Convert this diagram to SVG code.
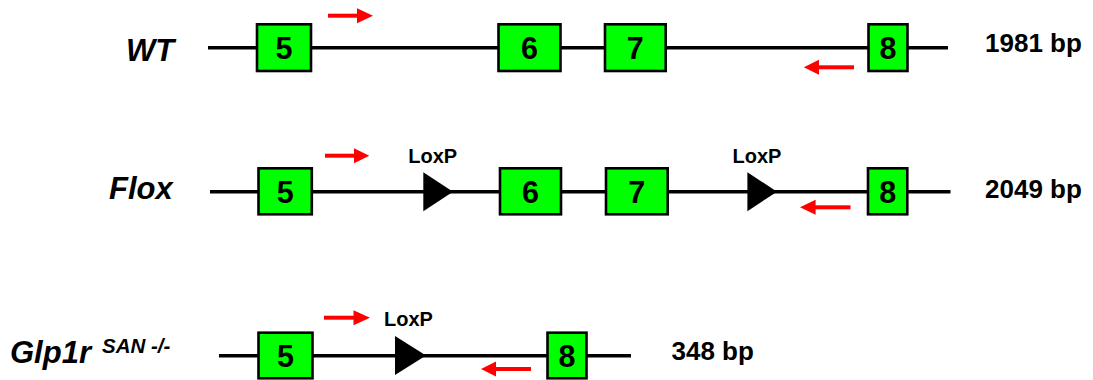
<svg xmlns="http://www.w3.org/2000/svg" width="1093" height="380" viewBox="0 0 1093 380">
<defs>
<style>
.bb{stroke:#000;stroke-width:3.6;fill:none}
.ex{fill:#00FF00;stroke:#000;stroke-width:2.6}
.num{font-family:"Liberation Sans",Arial,sans-serif;font-weight:bold;font-size:30.5px;text-anchor:middle;fill:#000}
.lbl{font-family:"Liberation Sans",Arial,sans-serif;font-weight:bold;font-style:italic;font-size:31px;fill:#000}
.sup{font-family:"Liberation Sans",Arial,sans-serif;font-weight:bold;font-style:italic;font-size:20.5px;fill:#000}
.bp{font-family:"Liberation Sans",Arial,sans-serif;font-weight:bold;font-size:26px;fill:#000}
.lox{font-family:"Liberation Sans",Arial,sans-serif;font-weight:bold;font-size:20px;fill:#000}
.pr{fill:#FF0000}
.tri{fill:#000}
</style>
</defs>
<rect width="1093" height="380" fill="#fff"/>
<g id="connectors">
<line class="bb" x1="208" y1="47.7" x2="948" y2="47.7"/>
<line class="bb" x1="210" y1="191.7" x2="950.5" y2="191.7"/>
<line class="bb" x1="219" y1="355.7" x2="631" y2="355.7"/>
</g>
<g id="row-wt">
<text id="label-wt" class="lbl" x="126" y="61">WT</text>
<g id="wt-ex5"><rect class="ex" x="257" y="24.3" width="54" height="46.7"/><text class="num" x="284" y="58.8">5</text></g>
<g id="wt-ex6"><rect class="ex" x="498.5" y="24.3" width="62" height="46.7"/><text class="num" x="529.5" y="58.8">6</text></g>
<g id="wt-ex7"><rect class="ex" x="605" y="24.3" width="60.7" height="46.7"/><text class="num" x="635.3" y="58.8">7</text></g>
<g id="wt-ex8"><rect class="ex" x="868.5" y="24.3" width="39" height="46.7"/><text class="num" x="888" y="58.8">8</text></g>
<g id="wt-fwd"><rect class="pr" x="328" y="13.7" width="30" height="4"/><polygon class="pr" points="357,8.2 373,15.7 357,23.2"/></g>
<g id="wt-rev"><rect class="pr" x="818" y="65.3" width="36" height="4"/><polygon class="pr" points="819,59.8 803.8,67.3 819,74.8"/></g>
<text id="wt-size" class="bp" x="985" y="51.7">1981 bp</text>
</g>
<g id="row-flox">
<text id="label-flox" class="lbl" x="109" y="199">Flox</text>
<g id="flox-ex5"><rect class="ex" x="258.5" y="168.3" width="53.3" height="46"/><text class="num" x="285.2" y="202.5">5</text></g>
<g id="flox-ex6"><rect class="ex" x="500" y="168.3" width="61" height="46"/><text class="num" x="530.5" y="202.5">6</text></g>
<g id="flox-ex7"><rect class="ex" x="606" y="168.3" width="61.7" height="46"/><text class="num" x="636.8" y="202.5">7</text></g>
<g id="flox-ex8"><rect class="ex" x="868" y="168.3" width="39.3" height="46"/><text class="num" x="887.7" y="202.5">8</text></g>
<g id="flox-lox1"><polygon class="tri" points="423.3,172.2 453,191.7 423.3,211.2"/><text class="lox" x="408.3" y="163.3">LoxP</text></g>
<g id="flox-lox2"><polygon class="tri" points="747.4,172.2 777,191.7 747.4,211.2"/><text class="lox" x="732.5" y="163.3">LoxP</text></g>
<g id="flox-fwd"><rect class="pr" x="325" y="153.7" width="30" height="4"/><polygon class="pr" points="354,148.2 369.3,155.7 354,163.2"/></g>
<g id="flox-rev"><rect class="pr" x="815" y="205.3" width="35.5" height="4"/><polygon class="pr" points="815.6,199.8 800,207.3 815.6,214.8"/></g>
<text id="flox-size" class="bp" x="985" y="198.3">2049 bp</text>
</g>
<g id="row-ko">
<text id="label-ko" class="lbl" x="10" y="363.3">Glp1r<tspan class="sup" dx="11" dy="-10.5">SAN -/-</tspan></text>
<g id="ko-ex5"><rect class="ex" x="258.5" y="332.7" width="54" height="45.6"/><text class="num" x="285.5" y="366.5">5</text></g>
<g id="ko-ex8"><rect class="ex" x="547.5" y="332.7" width="39" height="45.6"/><text class="num" x="567" y="366.5">8</text></g>
<g id="ko-lox"><polygon class="tri" points="395,336 426,355.5 395,375"/><text class="lox" x="384" y="326">LoxP</text></g>
<g id="ko-fwd"><rect class="pr" x="324" y="315.7" width="30" height="4"/><polygon class="pr" points="353.5,310.2 370,317.7 353.5,325.2"/></g>
<g id="ko-rev"><rect class="pr" x="495" y="367" width="36" height="4"/><polygon class="pr" points="496,361.5 481,369 496,376.5"/></g>
<text id="ko-size" class="bp" x="671.5" y="360">348 bp</text>
</g>
</svg>
